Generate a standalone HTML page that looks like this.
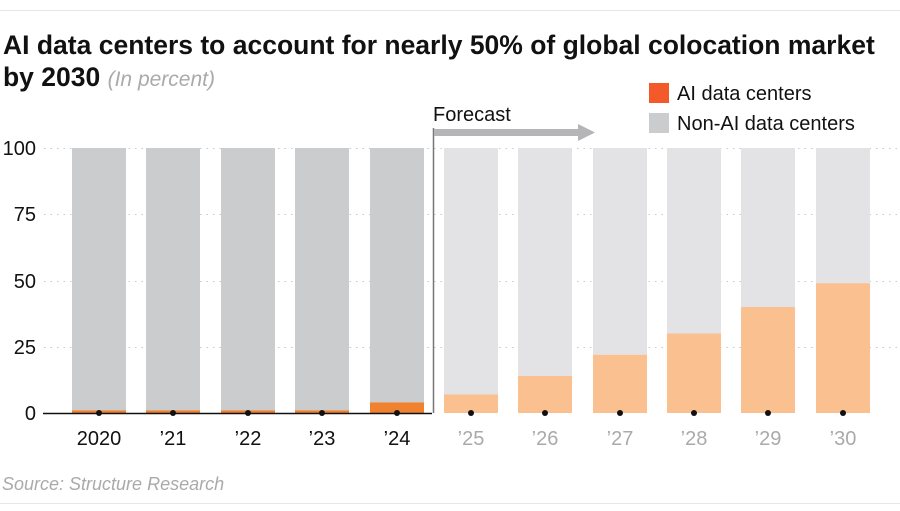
<!DOCTYPE html>
<html><head><meta charset="utf-8"><style>
body{margin:0;background:#fff;width:900px;height:506px;overflow:hidden;font-family:"Liberation Sans",sans-serif;}
</style></head><body>
<svg width="900" height="506" xmlns="http://www.w3.org/2000/svg" font-family="Liberation Sans, sans-serif">
<line x1="0" y1="10.5" x2="900" y2="10.5" stroke="#e6e6e6"/>
<line x1="0" y1="503.5" x2="900" y2="503.5" stroke="#e6e6e6"/>
<text x="3" y="54" font-size="26.5" font-weight="bold" fill="#111">AI data centers to account for nearly 50% of global colocation market</text>
<text x="3" y="86" font-size="26.5" font-weight="bold" fill="#111">by 2030 <tspan font-weight="normal" font-style="italic" fill="#aaa" font-size="21">(In percent)</tspan></text>
<rect x="649" y="83" width="20" height="20" fill="#f4592a"/>
<text x="677" y="100" font-size="20" fill="#111">AI data centers</text>
<rect x="649" y="113" width="20" height="20" fill="#cbcccd"/>
<text x="677" y="130" font-size="20" fill="#111">Non-AI data centers</text>
<g stroke="#c8c8c8" stroke-dasharray="1.5 5">
<line x1="44" y1="148.5" x2="900" y2="148.5"/>
<line x1="44" y1="214.5" x2="900" y2="214.5"/>
<line x1="44" y1="281.5" x2="900" y2="281.5"/>
<line x1="44" y1="347.5" x2="900" y2="347.5"/>
</g>
<g font-size="20" fill="#111" text-anchor="end">
<text x="36" y="155">100</text><text x="36" y="221">75</text><text x="36" y="288">50</text><text x="36" y="354">25</text><text x="36" y="420">0</text>
</g>
<g fill="#cbcccd">
<rect x="72" y="148" width="54" height="262.35"/>
<rect x="146" y="148" width="54" height="262.35"/>
<rect x="221" y="148" width="54" height="262.35"/>
<rect x="295" y="148" width="54" height="262.35"/>
<rect x="370" y="148" width="54" height="254.4"/>
</g>
<g fill="#f0812f">
<rect x="72" y="410.35" width="54" height="2.65"/>
<rect x="146" y="410.35" width="54" height="2.65"/>
<rect x="221" y="410.35" width="54" height="2.65"/>
<rect x="295" y="410.35" width="54" height="2.65"/>
<rect x="370" y="402.4" width="54" height="10.6"/>
</g>
<g fill="#e3e3e5">
<rect x="444" y="148" width="54" height="246.45"/>
<rect x="518" y="148" width="54" height="227.9"/>
<rect x="593" y="148" width="54" height="206.7"/>
<rect x="667" y="148" width="54" height="185.5"/>
<rect x="741" y="148" width="54" height="159"/>
<rect x="816" y="148" width="54" height="135.15"/>
</g>
<g fill="#fbc08f">
<rect x="444" y="394.45" width="54" height="18.55"/>
<rect x="518" y="375.9" width="54" height="37.1"/>
<rect x="593" y="354.7" width="54" height="58.3"/>
<rect x="667" y="333.5" width="54" height="79.5"/>
<rect x="741" y="307" width="54" height="106"/>
<rect x="816" y="283.15" width="54" height="129.85"/>
</g>
<line x1="43" y1="413.5" x2="432" y2="413.5" stroke="#111" stroke-width="1.5"/>
<g fill="#111">
<circle cx="99" cy="413" r="3"/><circle cx="173" cy="413" r="3"/><circle cx="248" cy="413" r="3"/><circle cx="322" cy="413" r="3"/><circle cx="397" cy="413" r="3"/><circle cx="471" cy="413" r="3"/><circle cx="545" cy="413" r="3"/><circle cx="620" cy="413" r="3"/><circle cx="694" cy="413" r="3"/><circle cx="768" cy="413" r="3"/><circle cx="843" cy="413" r="3"/>
</g>
<g font-size="20" text-anchor="middle" fill="#111">
<text x="99" y="445">2020</text><text x="173" y="445">’21</text><text x="248" y="445">’22</text><text x="322" y="445">’23</text><text x="397" y="445">’24</text>
</g>
<g font-size="20" text-anchor="middle" fill="#aaa">
<text x="471" y="445">’25</text><text x="545" y="445">’26</text><text x="620" y="445">’27</text><text x="694" y="445">’28</text><text x="768" y="445">’29</text><text x="843" y="445">’30</text>
</g>
<line x1="433.5" y1="128" x2="433.5" y2="413" stroke="#777" stroke-width="1.5"/>
<rect x="434" y="129" width="146" height="7" fill="#b5b5b8"/>
<polygon points="578,124 595,132.5 578,141" fill="#b5b5b8"/>
<text x="433" y="121" font-size="20" fill="#111">Forecast</text>
<text x="2" y="490" font-size="18" font-style="italic" fill="#aaa">Source: Structure Research</text>
</svg>
</body></html>
